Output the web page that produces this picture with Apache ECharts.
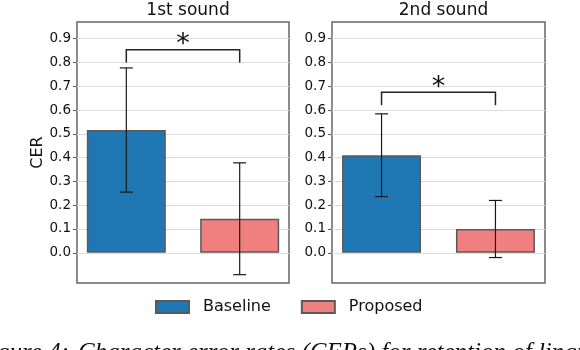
<!DOCTYPE html>
<html>
<head>
<meta charset="utf-8">
<script src="https://cdn.jsdelivr.net/npm/echarts@6/dist/echarts.min.js"></script>
<style>
  html, body { margin: 0; padding: 0; background: #fff; }
  #chart { width: 580px; height: 350px; }
</style>
</head>
<body>
<div id="chart"></div>
<script>
// panel titles and values
const panels = ['1st sound', '2nd sound'];
const baselineMean = [0.516, 0.41];
const baselineErr = [0.261, 0.174];
const proposedMean = [0.143, 0.10];
const proposedErr = [0.235, 0.12];
const bracketTop = [0.853, 0.675]; // significance bracket bar
const bracketLeg = [0.80, 0.62];   // bottom of bracket legs
const yTicks = [0, 0.1, 0.2, 0.3, 0.4, 0.5, 0.6, 0.7, 0.8, 0.9];

const FONT = 'DejaVu Sans';
const BLUE = '#1f77b4';
const CORAL = '#f08080';
const EDGE = '#5a5a5a';

const chart = echarts.init(document.getElementById('chart'));

const grids = [
  { left: 77, width: 212, top: 22, height: 261 },
  { left: 332, width: 213, top: 22, height: 261 }
];

const xAxes = grids.map((g, i) => ({
  type: 'value', gridIndex: i, min: -0.435, max: 1.435,
  axisLine: { show: false }, axisTick: { show: false },
  axisLabel: { show: false }, splitLine: { show: false }
}));

const yAxes = grids.map((g, i) => ({
  type: 'value', gridIndex: i, min: -0.127, max: 0.97,
  name: i === 0 ? 'CER' : '', nameLocation: 'middle', nameGap: 29.5,
  nameTextStyle: { fontFamily: FONT, fontSize: 16, color: '#111' },
  axisLine: { show: false, onZero: false },
  axisTick: { show: true, length: 4, customValues: yTicks, lineStyle: { color: '#666' } },
  axisLabel: {
    customValues: yTicks, fontFamily: FONT, fontSize: 13.5, color: '#111', margin: 6,
    formatter: v => v.toFixed(1)
  },
  splitLine: { show: true, lineStyle: { color: '#dcdcdc', width: 1 } }
}));

function errorBars(i) {
  return {
    type: 'custom', xAxisIndex: i, yAxisIndex: i, z: 5, silent: true,
    data: [
      [0, baselineMean[i] - baselineErr[i], baselineMean[i] + baselineErr[i]],
      [1, proposedMean[i] - proposedErr[i], proposedMean[i] + proposedErr[i]]
    ],
    renderItem: (params, api) => {
      const lo = api.coord([api.value(0), api.value(1)]);
      const hi = api.coord([api.value(0), api.value(2)]);
      const cap = 6.5;
      const style = { stroke: '#1a1a1a', lineWidth: 1.2 };
      return {
        type: 'group',
        children: [
          { type: 'line', shape: { x1: lo[0], y1: lo[1], x2: hi[0], y2: hi[1] }, style },
          { type: 'line', shape: { x1: lo[0] - cap, y1: lo[1], x2: lo[0] + cap, y2: lo[1] }, style },
          { type: 'line', shape: { x1: hi[0] - cap, y1: hi[1], x2: hi[0] + cap, y2: hi[1] }, style }
        ]
      };
    }
  };
}

function bracket(i) {
  return {
    type: 'custom', xAxisIndex: i, yAxisIndex: i, z: 6, silent: true,
    data: [[0, 1, bracketLeg[i], bracketTop[i]]],
    renderItem: (params, api) => {
      const a = api.coord([api.value(0), api.value(2)]);
      const b = api.coord([api.value(0), api.value(3)]);
      const c = api.coord([api.value(1), api.value(3)]);
      const d = api.coord([api.value(1), api.value(2)]);
      return {
        type: 'group',
        children: [
          {
            type: 'polyline',
            shape: { points: [a, b, c, d] },
            style: { stroke: '#222', lineWidth: 1.5, fill: null }
          },
          {
            type: 'text',
            style: {
              text: '*', x: (b[0] + c[0]) / 2, y: b[1] + 9,
              align: 'center', verticalAlign: 'bottom',
              fontFamily: FONT, fontSize: 27, fill: '#111'
            }
          }
        ]
      };
    }
  };
}

const series = [];
panels.forEach((p, i) => {
  series.push({
    name: 'Baseline', type: 'bar', xAxisIndex: i, yAxisIndex: i,
    barWidth: 79, barGap: '-100%',
    data: [[0, baselineMean[i]]],
    itemStyle: { color: BLUE, borderColor: EDGE, borderWidth: 1.5 }
  });
  series.push({
    name: 'Proposed', type: 'bar', xAxisIndex: i, yAxisIndex: i,
    barWidth: 79, barGap: '-100%',
    data: [[1, proposedMean[i]]],
    itemStyle: { color: CORAL, borderColor: EDGE, borderWidth: 1.5 }
  });
  series.push(errorBars(i));
  series.push(bracket(i));
});

const captionStyle = {
  fontFamily: 'Liberation Serif', fontStyle: 'italic', fontSize: 25, fill: '#111'
};

chart.setOption({
  animation: false,
  title: panels.map((p, i) => ({
    text: p, left: grids[i].left + grids[i].width / 2, top: -3, textAlign: 'center',
    textStyle: { fontFamily: FONT, fontSize: 17, fontWeight: 'normal', color: '#111' }
  })),
  grid: grids.map(g => Object.assign({ show: true, borderColor: '#666', borderWidth: 1.5, backgroundColor: '#fff' }, g)),
  legend: {
    data: ['Baseline', 'Proposed'],
    left: 155, top: 299, padding: 0, icon: 'rect',
    itemWidth: 33, itemHeight: 12, itemGap: 30,
    textStyle: { fontFamily: FONT, fontSize: 16, color: '#111', padding: [0, 0, 0, 9] }
  },
  xAxis: xAxes,
  yAxis: yAxes,
  series: series,
  graphic: [
    {
      type: 'text', x: 69, y: 341,
      style: Object.assign({ text: 'Figure 4:', align: 'right', verticalAlign: 'top' }, captionStyle)
    },
    {
      type: 'text', x: 78, y: 341,
      style: Object.assign({
        text: 'Character error rates (CERs) for retention of linguistic',
        align: 'left', verticalAlign: 'top'
      }, captionStyle)
    }
  ]
});
</script>
</body>
</html>
